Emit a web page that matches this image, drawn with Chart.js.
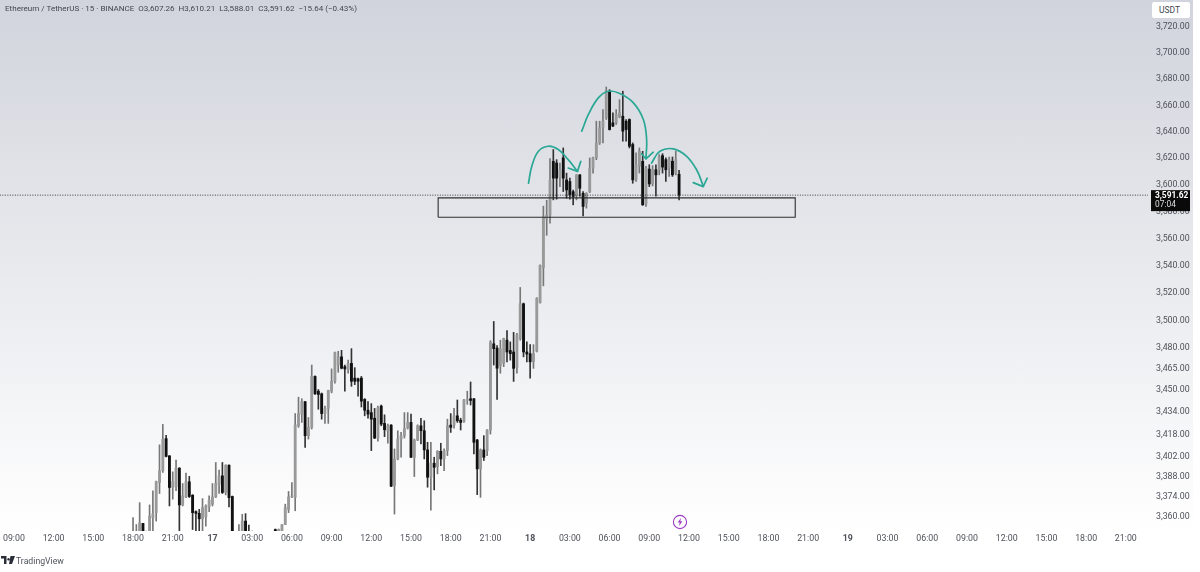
<!DOCTYPE html>
<html><head><meta charset="utf-8">
<script src="https://cdn.jsdelivr.net/npm/chart.js@4"></script>
<style>
html,body{margin:0;padding:0;background:#fff;width:1200px;height:572px;overflow:hidden}
#bg{position:absolute;left:0;top:0;width:1193px;height:532px;background:linear-gradient(#d1d4dc,#fff)}
canvas{position:absolute;left:0;top:0}
.t{position:absolute;font-family:Roboto,sans-serif;color:#43464e;white-space:pre}
#title{left:5px;top:3px;font-size:8.05px;line-height:11px}
#usdt{left:1152px;top:2px;width:38px;height:16px;background:#fff;border-radius:2px;font-size:8.5px;line-height:17px;text-indent:7px}
#tv{left:16px;top:555px;font-size:8.7px;line-height:12px;color:#50535b}
svg{position:absolute}
</style></head><body>
<div id="bg"></div>
<canvas id="c" width="1200" height="572"></canvas>
<div class="t" id="title">Ethereum / TetherUS · 15 · BINANCE  O3,607.26  H3,610.21  L3,588.01  C3,591.62  −15.64 (−0.43%)</div>
<div class="t" id="usdt">USDT</div>
<svg style="left:1px;top:556px" width="14" height="9" viewBox="0 0 14 9"><path d="M0 0h5.5v8H3V2.5H0zM7.5 2a1.3 1.3 0 1 0 .01 0zM9.5 0H14l-3 8H8z" fill="#2a2e39"/></svg>
<div class="t" id="tv">TradingView</div>
<svg style="left:672px;top:514px" width="16" height="16" viewBox="0 0 16 16"><circle cx="8" cy="8" r="6.6" fill="#fff" stroke="#9c3fc4" stroke-width="1.1"/><path d="M9 3.8 5.7 8.6h2L7 12.2l3.3-4.9h-2z" fill="#9c3fc4"/></svg>
<script>
const opens=[3345,3345,3348,3354.9,3346,3349,3358.9,3362.4,3383.5,3391.8,
3414.5,3402.3,3380,3380.5,3393.6,3367.8,3373.4,3384,3374.6,3363.1,
3361.9,3358.1,3359.3,3366.4,3368.3,3373.4,3382.3,3388.2,3376.5,3395.7,
3373.7,3347,3346,3349,3356.5,3348,3347,3346,3344,3342,
3340,3341,3343,3350.6,3349.5,3349.5,3354.1,3364.7,3373.4,3373.1,
3423.6,3431.9,3440.8,3416.6,3422.5,3458.9,3448.3,3446.4,3432.3,3436,
3448.3,3455.4,3467.1,3473,3465.9,3463.6,3468.3,3457.7,3457.2,3457.7,
3442.4,3434.7,3433,3429,3414.9,3437.7,3425.3,3420.1,3424.1,3381.3,
3400.1,3414.2,3416.6,3422,3426,3401.3,3413.5,3423.6,3420.1,3406.5,
3387.2,3397.1,3394.7,3405.5,3400.1,3406,3424.1,3424.1,3430.7,3427.6,
3426.7,3441.7,3442.9,3442.9,3413.5,3393.1,3406.5,3406,3420.6,3482.4,
3479.3,3466.6,3468.3,3485,3477.6,3476.5,3465.2,3486.2,3511.5,3476.5,
3475.3,3469.4,3477,3512.3,3537.8,3574.2,3576.7,3616.9,3615.7,3605,
3619.5,3603,3601.8,3594.2,3591.8,3606.8,3593,3585.6,3594.3,3611.9,
3619.5,3630.8,3642.2,3649.8,3670,3646,3646,3650.5,3651,3647.2,
3648.5,3629.6,3603.6,3613.2,3616.9,3585.1,3611.1,3600.5,3610.6,3610.6,
3621.2,3618.2,3611.9,3617,3608.1,3607.26];
const highs=[3358.9,3354.1,3369.4,3355,3349.5,3367.8,3377.7,3384.5,3410.1,3424.6,
3416.9,3402.5,3391,3399.3,3394,3382.8,3390.1,3387.8,3375,3363.6,
3364.7,3372.2,3367.8,3374.1,3382.8,3397.6,3392.2,3397.6,3396,3396,
3374,3348,3354.1,3361.2,3361.7,3353.7,3349.5,3347,3346,3345,
3344,3346,3347,3351,3351,3354.1,3368.3,3377.2,3383.5,3432.3,
3444,3442.9,3441,3429.5,3467.1,3459.3,3449.5,3447,3437.7,3449,
3464.3,3476.5,3477,3477.7,3467.1,3470.6,3478.9,3465.2,3457.7,3458.9,
3443,3440.8,3439.4,3436,3437.7,3438.4,3431.4,3424.8,3424.5,3407.2,
3420.1,3418.9,3433,3433,3431.9,3414.2,3424.3,3429,3427.2,3411.9,
3411.9,3401.3,3406,3411.2,3407.2,3428.3,3432.3,3436,3442,3429,
3442.4,3448.3,3454.9,3443,3414,3407.2,3416.6,3421,3484.7,3498.6,
3481.2,3485,3486.5,3491.9,3483.8,3490.7,3490,3523.4,3512,3483.8,
3481.8,3481.8,3516,3540,3583.4,3587.8,3619,3625.8,3618.2,3615.7,
3627,3608.1,3604.3,3595.4,3607,3607,3594.3,3593.5,3619.5,3620.2,
3647.2,3647.2,3656,3673.2,3671.2,3653.5,3656,3663.6,3670,3648.5,
3649,3630.8,3623.3,3627,3624.5,3613.2,3614.4,3613.7,3614.4,3622,
3622.7,3619.5,3620.2,3620.2,3624.5,3610.21];
const lows=[3344,3344,3345,3345,3344,3345,3345,3356.5,3375.8,3390.6,
3401.6,3367.1,3371.8,3377.7,3345,3367.1,3372.9,3373,3350.6,3345,
3349.5,3345,3353,3363.1,3367.1,3372.9,3375.8,3375.8,3374.8,3366.4,
3345,3344,3345,3345,3345,3345,3345,3342,3340,3338,
3338,3339,3341,3347,3347,3347,3354,3362.4,3372.9,3363.7,
3422.5,3426,3408.3,3414.2,3421.3,3446,3435.4,3428.3,3425.3,3425.3,
3447.1,3454,3461.9,3464.3,3448.3,3461.2,3451.8,3453,3444.8,3437,
3430.7,3429,3406,3414.5,3412.6,3423.6,3415.9,3411.2,3380.5,3361.4,
3399.5,3401.3,3414.9,3421.3,3401,3387.7,3413,3410.7,3400.1,3380.2,
3364.2,3378.3,3389.6,3395.4,3391.9,3402.5,3418.9,3422,3426,3420.6,
3426,3438.9,3438.4,3403.6,3375,3373.1,3399,3402.5,3417.7,3467.1,
3442.4,3461.2,3465.9,3469.4,3470.6,3455.3,3461.2,3485,3473,3469.4,
3457.7,3464.7,3476.5,3512,3524.6,3561.8,3570.7,3588.1,3588.6,3598,
3594.3,3589.3,3588.6,3584.4,3588.1,3590.8,3576.2,3581.9,3593.5,3608.1,
3618.2,3629.6,3630.8,3648.5,3640.5,3643,3644.7,3649.8,3632.1,3632.1,
3627,3600.5,3601.8,3608.1,3584,3583.2,3598,3598.5,3590.8,3606.8,
3608.1,3601.8,3605.6,3605.6,3606.8,3588.01];
const closes=[3347,3347,3355.3,3349,3345,3360,3361.7,3384,3391.8,3414.1,
3401.9,3380,3384.2,3393.6,3367.8,3374.1,3384,3373.7,3362.4,3361.9,
3358.1,3365.9,3367.1,3371.1,3373.4,3382.8,3388.2,3376.5,3395.7,3372.9,
3349,3346,3347,3356.5,3349,3347,3346,3344,3342,3340,
3341,3343,3345,3349.5,3350.6,3354,3365.9,3373.4,3374,3424.3,
3432.3,3440.8,3416.6,3422.5,3458.9,3446.4,3446,3432.3,3436,3448.8,
3455.4,3476,3473,3464.8,3464.3,3468.3,3455.4,3455.4,3455.4,3441.2,
3434.7,3431.9,3428.3,3414.9,3436.5,3424.8,3420.8,3423.6,3380.9,3400.1,
3414.2,3416.6,3421.7,3426,3401.3,3413.5,3423.6,3420.1,3406.5,3387.2,
3397.1,3394.2,3405.5,3400.1,3406,3423.6,3422.5,3430.7,3427.2,3426,
3442,3442.4,3441.7,3411.9,3393.1,3406.5,3401.3,3420.6,3483.5,3478.9,
3464.8,3478.8,3486.2,3476.5,3475.3,3464.7,3488.7,3511.5,3476.5,3475,
3469.4,3475.3,3515.5,3539.5,3575.4,3576.7,3602.7,3604.3,3604.3,3610.6,
3604.3,3595.5,3591.8,3590.6,3606.8,3596.8,3583.2,3593,3611.9,3619.5,
3630.8,3642.2,3647.2,3670,3640.9,3643.5,3652.3,3653.6,3639.7,3640.9,
3628.3,3603,3614.4,3624.5,3584.4,3611.9,3600,3610.6,3606.8,3620.2,
3612.6,3610.6,3618.2,3606.8,3618.2,3591.62];

const priceTicks=[3360,3374,3388,3402,3418,3434,3450,3465,3480,3500,3520,3540,3560,3580,3600,3620,3640,3660,3680,3700,3720];
const timeTickLabels=["09:00","12:00","15:00","18:00","21:00","17","03:00","06:00","09:00","12:00","15:00","18:00","21:00","18","03:00","06:00","09:00","12:00","15:00","18:00","21:00","19","03:00","06:00","09:00","12:00","15:00","18:00","21:00"];
const firstTickBar=-36, barsPerTick=12;
const lastPrice=3591.62, countdown="07:04";
const zoneBars=[92.2,200.1], zonePrices=[3575.2,3589.6];
const curve1Bars=[119.5,120.5,122.5,125.5,128.5,131.5,134.3], curve1Prices=[3600.5,3613.2,3624.5,3628.3,3625.8,3618.2,3609.4];
const head1Bars=[131.5,134.3,135.3], head1Prices=[3611.9,3609.4,3616.9];
const curve2Bars=[135.6,137.6,140.6,143.6,147.1,151.2,154.2,155.2,155], curve2Prices=[3639.7,3652.3,3664.9,3670,3668.2,3661.1,3648.5,3633.4,3619.5];
const head2Bars=[153.7,155,157.2], head2Prices=[3622.7,3618.7,3623.8];
const curve3Bars=[156.7,159.2,163.3,167.3,170.3,172.3], curve3Prices=[3615.7,3624.5,3626.3,3620.7,3610.6,3598.5];
const head3Bars=[169.3,172.3,173.5], head3Prices=[3601,3598,3604.3];

const TEAL='#2aa795';
const isUp=i=>closes[i]>=opens[i];
const pts=(xs,ys)=>xs.map((x,i)=>({x,y:ys[i]}));
const stroke=(xs,ys,smooth)=>({type:'line',data:pts(xs,ys),borderColor:TEAL,borderWidth:1.7,pointRadius:0,tension:smooth?0.4:0,order:1,borderCapStyle:'round',borderJoinStyle:'round'});
const fontFam='Roboto,sans-serif';
const noPad=s=>{s.paddingTop=0;s.paddingBottom=0;s.paddingLeft=0;s.paddingRight=0;};

const pricetag={id:'pricetag',afterDraw(ch){
  const c=ch.ctx,y=ch.scales.y.getPixelForValue(lastPrice);
  c.save();
  c.fillStyle='#0a0a0a';c.fillRect(1151,y-5,39,21);
  c.fillStyle='#fff';c.textAlign='left';c.textBaseline='middle';
  c.font='bold 8.4px '+fontFam;c.fillText(lastPrice.toLocaleString('en-US',{minimumFractionDigits:2}),1155,y+0.5);
  c.fillStyle='#ddd';c.font='8.4px '+fontFam;c.fillText(countdown,1155,y+9.5);
  c.restore();
}};

new Chart(document.getElementById('c'),{
  type:'bar',
  plugins:[pricetag],
  data:{datasets:[
    {data:opens.map((o,i)=>({x:i,y:[lows[i],highs[i]]})),barThickness:1,grouped:false,minBarLength:1,
      backgroundColor:opens.map((o,i)=>isUp(i)?'#777':'#333'),order:5},
    {data:opens.map((o,i)=>({x:i,y:[o,closes[i]]})),barThickness:2.2,grouped:false,minBarLength:1,
      backgroundColor:opens.map((o,i)=>isUp(i)?'#999':'#111'),order:4},
    {type:'line',data:[{x:-41,y:lastPrice},{x:307,y:lastPrice}],borderColor:'#3a3a3a',borderWidth:1,borderDash:[1,1.5],pointRadius:0,order:3},
    {type:'line',data:pts([zoneBars[0],zoneBars[0],zoneBars[1],zoneBars[1],zoneBars[0]],[zonePrices[0],zonePrices[1],zonePrices[1],zonePrices[0],zonePrices[0]]),
      borderColor:'#2e2e2e',borderWidth:1.1,backgroundColor:'rgba(255,255,255,0.35)',fill:{target:{value:zonePrices[0]}},pointRadius:0,tension:0,order:2},
    stroke(curve1Bars,curve1Prices,true),stroke(head1Bars,head1Prices,false),
    stroke(curve2Bars,curve2Prices,true),stroke(head2Bars,head2Prices,false),
    stroke(curve3Bars,curve3Prices,true),stroke(head3Bars,head3Prices,false)
  ]},
  options:{
    responsive:false,animation:false,devicePixelRatio:1,
    layout:{autoPadding:false,padding:{left:0,top:0,right:7,bottom:21}},
    plugins:{legend:{display:false},tooltip:{enabled:false},title:{display:false}},
    scales:{
      x:{type:'linear',offset:false,min:-40.2,max:306.7,
        grid:{display:false,drawTicks:false},border:{display:false},
        afterBuildTicks(s){s.ticks=timeTickLabels.map((l,i)=>({value:firstTickBar+i*barsPerTick}));},
        afterFit(s){s.height=20;noPad(s);},
        ticks:{autoSkip:false,maxRotation:0,padding:3,color:'#4f525a',
          font:c=>({family:fontFam,size:8.8,weight:(c.tick&&timeTickLabels[(c.tick.value-firstTickBar)/barsPerTick].length===2)?'bold':'normal'}),
          callback:v=>timeTickLabels[(v-firstTickBar)/barsPerTick]}
      },
      y:{type:'logarithmic',position:'right',min:3349.6,max:3740.2,
        grid:{display:false,drawTicks:false},border:{display:false},
        afterBuildTicks(s){s.ticks=priceTicks.map(v=>({value:v}));},
        afterFit(s){s.width=45;noPad(s);},
        ticks:{autoSkip:false,padding:8,labelOffset:1,crossAlign:'near',color:'#4f525a',font:{family:fontFam,size:8.8},
          callback:v=>Number(v).toLocaleString('en-US',{minimumFractionDigits:2,maximumFractionDigits:2})}
      }
    }
  }
});
</script>
</body></html>
